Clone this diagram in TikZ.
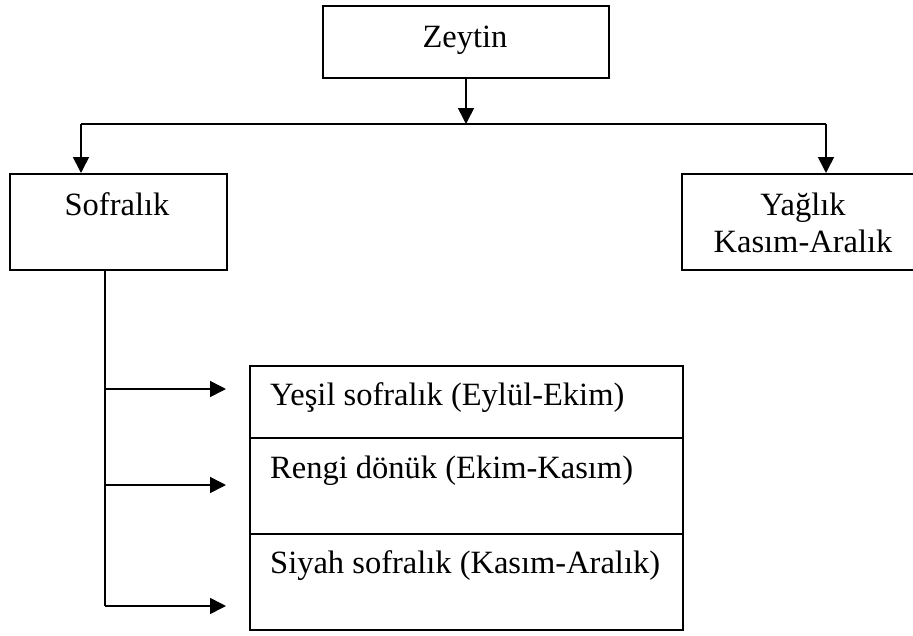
\documentclass[tikz,border=0pt]{standalone}
\usepackage{fontspec}
\setmainfont{Liberation Serif}
\usetikzlibrary{arrows.meta}
\begin{document}
\begin{tikzpicture}[x=1pt,y=-1pt,
  every node/.style={font=\fontsize{32.5}{38}\selectfont},
  box/.style={draw,line width=1.8pt,inner sep=0pt,anchor=north west},
  lbl/.style={inner sep=0pt,anchor=base},
  lblw/.style={inner sep=0pt,anchor=base west},
  conn/.style={line width=1.6pt},
  arr/.style={line width=1.6pt,-{Triangle[length=16pt,width=16pt]}}]
\useasboundingbox (0,0) rectangle (913,635);
% boxes
\node[box,minimum width=286pt,minimum height=72pt] (zeytin) at (322,5) {};
\node[box,minimum width=217pt,minimum height=96pt] (sofralik) at (9,173) {};
\node[box,minimum width=240pt,minimum height=96pt] (yaglik) at (681,173) {};
\node[box,minimum width=433pt,minimum height=72pt] (c1) at (249,365) {};
\node[box,minimum width=433pt,minimum height=96pt] (c2) at (249,437) {};
\node[box,minimum width=433pt,minimum height=96pt] (c3) at (249,533) {};
% texts
\node[lbl] (tz) at (465,47) {Zeytin};
\node[lbl] (ts) at (117,215) {Sofralık};
\node[lbl] (ty1) at (803,215) {Yağlık};
\node[lbl] (ty2) at (803,252) {Kasım-Aralık};
\node[lblw] (t1) at (270,405) {Yeşil sofralık (Eylül-Ekim)};
\node[lblw] (t2) at (270,478) {Rengi dönük (Ekim-Kasım)};
\node[lblw] (t3) at (270,573) {Siyah sofralık (Kasım-Aralık)};
% connectors
\coordinate (hub) at (466,124);
\coordinate (hl) at (81,124);
\coordinate (hr) at (826,124);
\draw[arr] (zeytin.south -| hub) -- (hub);
\draw[conn] (hl) -- (hr);
\draw[arr] (hl) -- (hl |- sofralik.north);
\draw[arr] (hr) -- (hr |- yaglik.north);
\coordinate (trunk) at (105,269);
\coordinate (b1) at (105,389);
\coordinate (b2) at (105,485);
\coordinate (b3) at (105,606);
\coordinate (e1) at (226,389);
\coordinate (e2) at (226,485);
\coordinate (e3) at (226,606);
\draw[conn] (trunk) -- (b3);
\draw[arr] (b1) -- (e1);
\draw[arr] (b2) -- (e2);
\draw[arr] (b3) -- (e3);
\end{tikzpicture}
\end{document}
